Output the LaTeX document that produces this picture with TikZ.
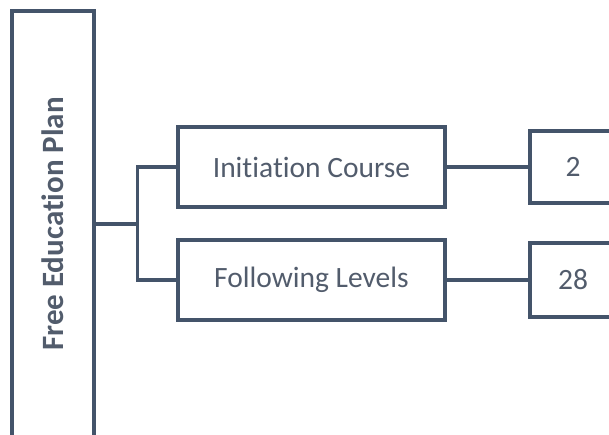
\documentclass[tikz,border=0pt]{standalone}
\usepackage{fontspec}
\setmainfont{Carlito}[Ligatures=NoCommon]
\usepackage{tikz}
\definecolor{framecol}{HTML}{44546A}
\definecolor{textcol}{HTML}{525C6C}
\tikzset{box/.style={draw=framecol, line width=3.2pt, text=textcol, font=\fontsize{29.5}{34}\selectfont, inner sep=0pt},
  link/.style={draw=framecol, line width=3.2pt}}

\begin{document}
\begin{tikzpicture}[x=1pt, y=-1pt]
      \useasboundingbox (0, 0) rectangle (609, 435);
      \clip (0, 0) rectangle (609, 435);
      \node[box, minimum width=82pt, minimum height=426pt] (plan) at (53, 224) {};
      \node[text=textcol, font=\fontsize{31}{36}\selectfont\bfseries, rotate=90] (plantxt) at (53, 224) {Free Education Plan};

      \node[box, minimum width=267pt, minimum height=80pt] (init) at (311.5, 167) {Initiation Course};
      \node[box, minimum width=267pt, minimum height=80pt] (follow) at (311.5, 280) {Following Levels};

      \node[box, minimum width=86pt, minimum height=72pt] (two) at (573, 167) {2};
      \node[box, minimum width=86pt, minimum height=74pt] (twoeight) at (573, 280) {28};

      \draw[link] (plan.east) -- ++(42, 0) coordinate (fork);
      \draw[link] (fork) |- (init.west);
      \draw[link] (fork) |- (follow.west);
      \draw[link] (init) -- (two);
      \draw[link] (follow) -- (twoeight);
    \end{tikzpicture}
\end{document}
